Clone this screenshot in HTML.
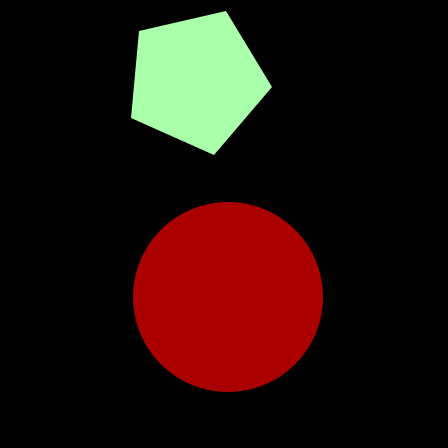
<!DOCTYPE html>
<html><head><meta charset="utf-8"><style>html,body{margin:0;padding:0;background:#000;}svg{display:block}</style></head>
<body>
<svg width="448" height="448" viewBox="0 0 448 448">
<rect width="448" height="448" fill="#000"/>
<polygon points="139,31 226,11 272,87 214,155 131,118" fill="#aaffaa"/>
<circle cx="228" cy="297" r="95" fill="#aa0000"/>
</svg>
</body></html>
